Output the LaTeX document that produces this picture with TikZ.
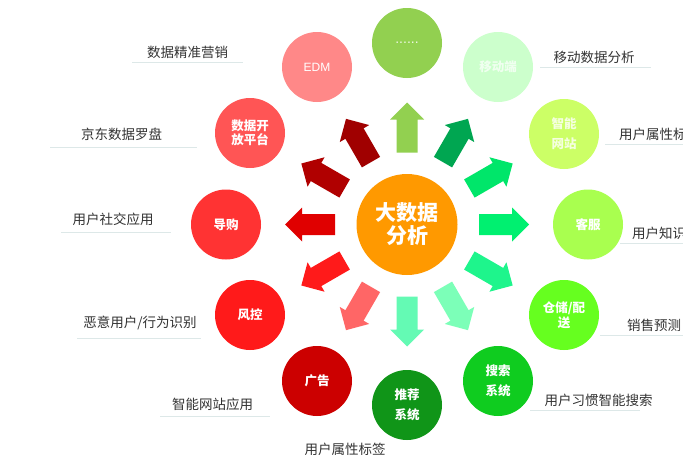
\documentclass[tikz,border=0pt]{standalone}
\usepackage{fontspec}
\setmainfont{Noto Sans CJK SC}
\newfontfamily\latinf{Liberation Sans}
\definecolor{ctxt}{HTML}{333333}
\definecolor{cline}{HTML}{DDE8E8}
\definecolor{chub}{HTML}{FF9900}
\definecolor{aA}{HTML}{00F070}
\definecolor{aB}{HTML}{00E66A}
\definecolor{aC}{HTML}{00A651}
\definecolor{aD}{HTML}{92D050}
\definecolor{aE}{HTML}{A00000}
\definecolor{aF}{HTML}{B00000}
\definecolor{aG}{HTML}{E00000}
\definecolor{aH}{HTML}{FF1A1A}
\definecolor{aI}{HTML}{FF6666}
\definecolor{aJ}{HTML}{64FAB4}
\definecolor{aK}{HTML}{7CFFB8}
\definecolor{aL}{HTML}{1EF58C}
\definecolor{bA}{HTML}{92D050}
\definecolor{bB}{HTML}{CCFFCC}
\definecolor{bC}{HTML}{CCFF66}
\definecolor{bD}{HTML}{A9FF4F}
\definecolor{bE}{HTML}{66FF1F}
\definecolor{bF}{HTML}{0FCC1F}
\definecolor{bG}{HTML}{109518}
\definecolor{bH}{HTML}{CC0000}
\definecolor{bI}{HTML}{FF1A1A}
\definecolor{bJ}{HTML}{FF3333}
\definecolor{bK}{HTML}{FF5555}
\definecolor{bL}{HTML}{FF8888}
\tikzset{
  bub/.style={circle,minimum size=70pt,inner sep=0pt,text=white,font=\fontsize{12.5pt}{20pt}\selectfont\bfseries,align=center},
  hubnode/.style={circle,minimum size=101pt,inner sep=0pt,fill=chub,text=white,font=\fontsize{21pt}{23pt}\selectfont\bfseries,align=center},
  lab/.style={text=ctxt,font=\fontsize{13.5pt}{15pt}\selectfont,inner sep=0pt},
  ruleline/.style={cline,line width=0.8pt}
}
\newcommand{\radial}[2]{%
  \begin{scope}[shift={(hub.center)},rotate=#1]
  \fill[#2] (72,-10.5)--(105,-10.5)--(105,-17)--(122,0)--(105,17)--(105,10.5)--(72,10.5)--cycle;
  \end{scope}}
\newcommand{\underl}[4]{%
  \coordinate (#1a) at (#2,#4); \coordinate (#1b) at (#3,#4);
  \draw[ruleline] (#1a)--(#1b);}
\begin{document}
\begin{tikzpicture}[x=1pt,y=-1pt]
\useasboundingbox (0,0) rectangle (683,455);
\fill[white] (0,0) rectangle (683,455);
\node[hubnode] (hub) at (407,224.5) {大数据\\分析};
\radial{0}{aA}
\radial{30}{aB}
\radial{60}{aC}
\radial{90}{aD}
\radial{120}{aE}
\radial{150}{aF}
\radial{180}{aG}
\radial{210}{aH}
\radial{240}{aI}
\radial{270}{aJ}
\radial{300}{aK}
\radial{330}{aL}
\node[bub,fill=bA,font=\latinf\fontsize{14pt}{14pt}\selectfont,text=white!85!bA] (more) at (407,43) {......};
\node[bub,fill=bB,text=white!70!bB] (mob) at (498,67) {移动端};
\node[bub,fill=bC,text=white!80!bC] (web) at (564,134) {智能\\网站};
\node[bub,fill=bD] (svc) at (588,224.5) {客服};
\node[bub,fill=bE,font=\fontsize{12.5pt}{15pt}\selectfont\bfseries] (wh) at (564,315) {仓储/配\\送};
\node[bub,fill=bF] (srch) at (498,381) {搜索\\系统};
\node[bub,fill=bG] (rec) at (407,405) {推荐\\系统};
\node[bub,fill=bH] (ad) at (317,381) {广告};
\node[bub,fill=bI] (risk) at (250,315) {风控};
\node[bub,fill=bJ] (shop) at (226,224.5) {导购};
\node[bub,fill=bK,font=\fontsize{12.5pt}{14pt}\selectfont\bfseries] (open) at (250,133) {数据开\\放平台};
\node[bub,fill=bL,font=\latinf\fontsize{12pt}{14pt}\selectfont] (edm) at (317,67) {EDM};
\node[lab] (l1) at (594,57) {移动数据分析};
\node[lab,anchor=west] (l2) at (619,134) {用户属性标};
\node[lab,anchor=west] (l3) at (632,233) {用户知识};
\node[lab] (l4) at (654,325) {销售预测};
\node[lab] (l5) at (598.5,400) {用户习惯智能搜索};
\node[lab] (l6) at (345,449) {用户属性标签};
\node[lab] (l7) at (212.5,404) {智能网站应用};
\node[lab] (l8) at (140,323) {恶意用户/行为识别};
\node[lab] (l9) at (113,219) {用户社交应用};
\node[lab] (l10) at (121.5,134) {京东数据罗盘};
\node[lab] (l11) at (187.5,52) {数据精准营销};
\underl{u1}{540}{651}{67}
\underl{u2}{605}{683}{144}
\underl{u3}{620}{683}{243}
\underl{u4}{600}{683}{335}
\underl{u5}{530}{640}{410}
\underl{u7}{160}{270}{416}
\underl{u8}{77}{201}{338}
\underl{u9}{61}{171}{232}
\underl{u10}{50}{197}{147}
\underl{u11}{132}{243}{62}
\end{tikzpicture}
\end{document}
